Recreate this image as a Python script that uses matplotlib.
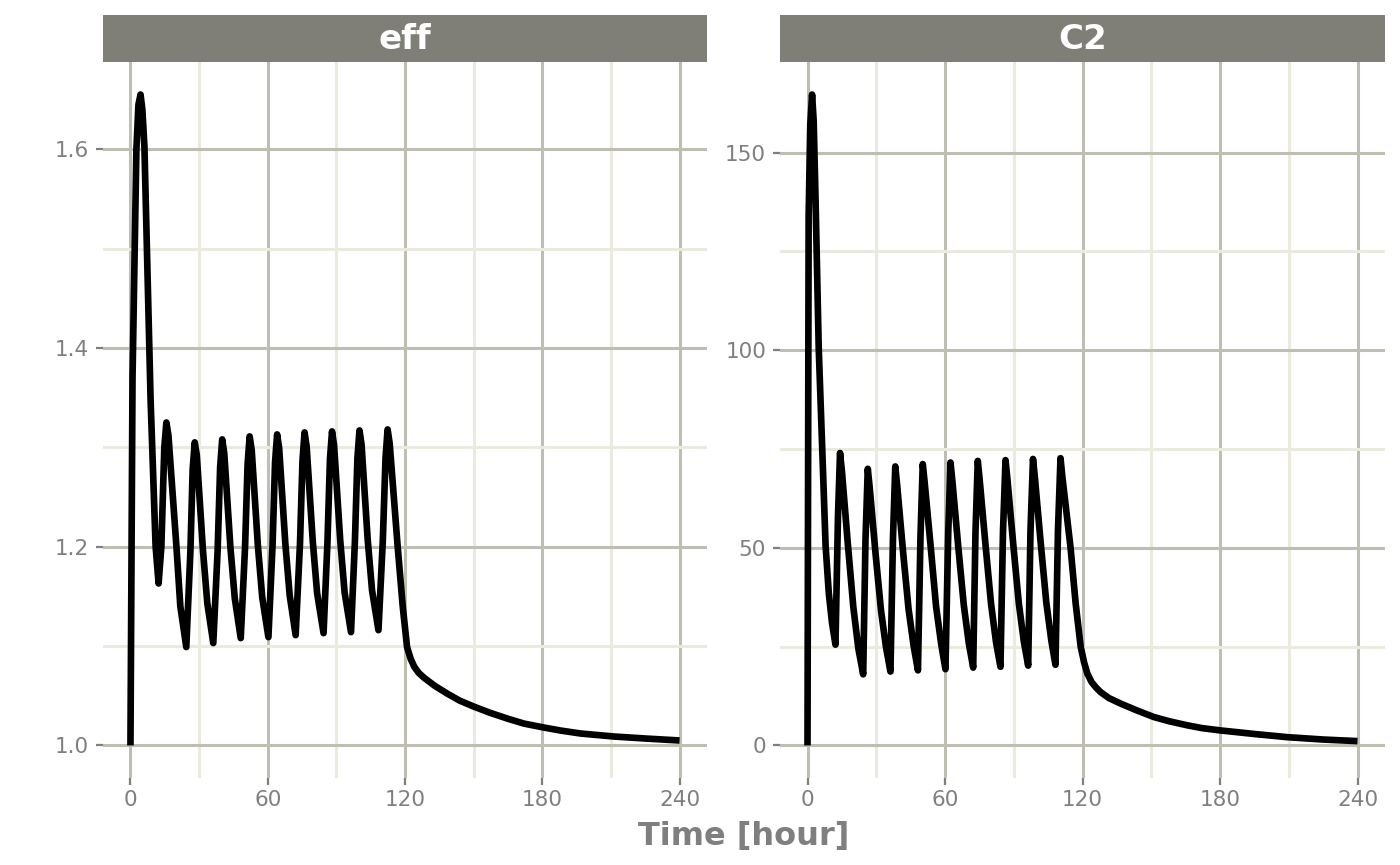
import matplotlib
matplotlib.use("Agg")
import matplotlib.pyplot as plt

# values (time in hours)
time_eff = [0, 0.9, 2.6, 3.5, 4.4, 5.2, 6.1, 8.8, 11.0, 12.3,
            13.5, 14.8, 15.7, 16.6, 20.1, 21.8, 24.4,
            26.2, 27.2, 28.1, 29.0, 31.7, 33.6, 36.2,
            38.1, 39.2, 40.1, 41.0, 43.7, 45.6, 48.2,
            50.1, 51.2, 52.1, 53.0, 55.7, 57.6, 60.3,
            62.1, 63.2, 64.1, 65.0, 67.7, 69.6, 72.2,
            74.1, 75.2, 76.1, 77.0, 79.7, 81.6, 84.4,
            86.1, 87.2, 88.1, 89.0, 91.7, 93.6, 96.4,
            98.1, 99.2, 100.1, 101.0, 103.7, 105.6, 108.4,
            110.3, 111.5, 112.4, 113.3, 116.8, 119.0, 120.9, 122.5, 124.1,
            126.0, 128.4, 133.0, 138.6, 144.0, 150.2, 157.0, 164.8, 172.0,
            180.8, 188.0, 196.8, 211.3, 225.0, 240.0]
eff = [1.000, 1.370, 1.600, 1.645, 1.655, 1.640, 1.603, 1.348, 1.200, 1.163,
       1.200, 1.300, 1.325, 1.312, 1.200, 1.140, 1.099,
       1.195, 1.278, 1.305, 1.292, 1.196, 1.143, 1.103,
       1.196, 1.280, 1.308, 1.294, 1.199, 1.148, 1.108,
       1.200, 1.283, 1.311, 1.297, 1.201, 1.149, 1.109,
       1.201, 1.285, 1.313, 1.299, 1.203, 1.151, 1.111,
       1.203, 1.287, 1.315, 1.301, 1.205, 1.153, 1.113,
       1.204, 1.288, 1.316, 1.302, 1.206, 1.154, 1.114,
       1.205, 1.289, 1.317, 1.303, 1.207, 1.156, 1.116,
       1.206, 1.290, 1.318, 1.304, 1.200, 1.140, 1.099, 1.087, 1.079,
       1.073, 1.068, 1.060, 1.052, 1.045, 1.039, 1.033, 1.027, 1.022,
       1.018, 1.015, 1.012, 1.009, 1.007, 1.005]

time_c2 = [0, 0.5, 1.2, 2.0, 2.7, 3.5, 4.9, 6.4, 7.9, 9.3, 10.7, 12.2,
           13.3, 14.2, 15.0, 17.6, 20.0, 22.2, 24.3,
           25.3, 26.3, 27.1, 29.7, 32.1, 34.3, 36.2,
           37.3, 38.3, 39.1, 41.7, 44.1, 46.3, 48.2,
           49.3, 50.3, 51.1, 53.8, 56.1, 58.4, 60.2,
           61.4, 62.4, 63.2, 65.8, 68.2, 70.4, 72.3,
           73.3, 74.3, 75.1, 77.7, 80.1, 82.3, 84.2,
           85.3, 86.4, 87.2, 89.8, 92.2, 94.4, 96.3,
           97.3, 98.4, 99.2, 101.8, 104.2, 106.4, 108.2,
           109.3, 110.4, 111.2, 114.8, 117.0, 119.2, 120.7, 122.1, 124.0, 126.0, 127.9,
           131.5, 136.6, 144.0, 151.1, 158.0, 165.7, 172.0, 180.2, 195.0, 209.3, 225.0, 240.0]
c2 = [0, 134, 157, 164.7, 158, 138.5, 100.5, 75.5, 50.5, 38.5, 31.0, 25.5,
      58, 74.0, 69.5, 51, 35, 24.5, 18.0,
      52, 70.0, 65.5, 48.5, 34, 24.7, 18.7,
      52.5, 70.6, 66, 49, 34.5, 25.2, 19.0,
      53, 71.2, 66.7, 50, 35.2, 25.4, 19.3,
      53.5, 71.6, 67, 50.2, 35.5, 25.8, 19.7,
      54, 72.0, 67.4, 50.6, 35.8, 26, 19.9,
      54, 72.2, 67.6, 50.8, 36, 26.3, 20.2,
      54.3, 72.5, 67.9, 51, 36.2, 26.5, 20.4,
      54.5, 72.7, 68, 50, 36, 25, 21.0, 18.2, 16.0, 14.6, 13.5,
      12.0, 10.6, 8.8, 7.2, 6.1, 5.1, 4.4, 3.8, 2.9, 2.1, 1.5, 1.1]

panels = ["eff", "C2"]
x_major = [0, 60, 120, 180, 240]
x_minor = [30, 90, 150, 210]
y_major = {"eff": [1.0, 1.2, 1.4, 1.6], "C2": [0, 50, 100, 150]}
y_minor = {"eff": [1.1, 1.3, 1.5], "C2": [25, 75, 125]}
y_labels = {"eff": ["1.0", "1.2", "1.4", "1.6"], "C2": ["0", "50", "100", "150"]}

strip_col = "#7f7f77"
major_col = "#bebeb2"
minor_col = "#eaeade"
text_col = "#7f7f7f"

fig = plt.figure(figsize=(14, 8.65), dpi=100)

lefts = [103 / 1400, 780 / 1400]
widths = [604 / 1400, 605 / 1400]
bottom = (865 - 778) / 865
height = 716 / 865
strip_bottom = (865 - 62) / 865
strip_h = 47 / 865

data = {"eff": (time_eff, eff), "C2": (time_c2, c2)}

for i, name in enumerate(panels):
    ax = fig.add_axes([lefts[i], bottom, widths[i], height])
    t, v = data[name]
    ax.plot(t, v, color="black", lw=4.8, solid_joinstyle="round",
            solid_capstyle="butt", zorder=3)
    ax.margins(x=0.05, y=0.05)

    ax.set_xticks(x_major)
    ax.set_xticks(x_minor, minor=True)
    ax.set_yticks(y_major[name])
    ax.set_yticklabels(y_labels[name])
    ax.set_yticks(y_minor[name], minor=True)
    ax.grid(which="major", color=major_col, lw=2.2, zorder=0)
    ax.grid(which="minor", color=minor_col, lw=2.2, zorder=0)
    ax.set_axisbelow(True)
    for s in ax.spines.values():
        s.set_visible(False)
    ax.tick_params(which="major", length=5, width=1.6, color=text_col,
                   labelcolor=text_col, labelsize=15.5)
    ax.tick_params(axis="y", pad=5)
    ax.tick_params(axis="x", pad=4)
    ax.tick_params(which="minor", length=0)

    sax = fig.add_axes([lefts[i], strip_bottom, widths[i], strip_h])
    sax.set_facecolor(strip_col)
    sax.set_xticks([])
    sax.set_yticks([])
    for s in sax.spines.values():
        s.set_visible(False)
    sax.text(0.5, 0.48, name, color="white", fontsize=24.5, fontweight="bold",
             ha="center", va="center", transform=sax.transAxes)

fig.text(744 / 1400, (865 - 836) / 865, "Time [hour]", color=text_col,
         fontsize=23, fontweight="bold", ha="center", va="center")

fig.savefig("out.png", dpi=100)
